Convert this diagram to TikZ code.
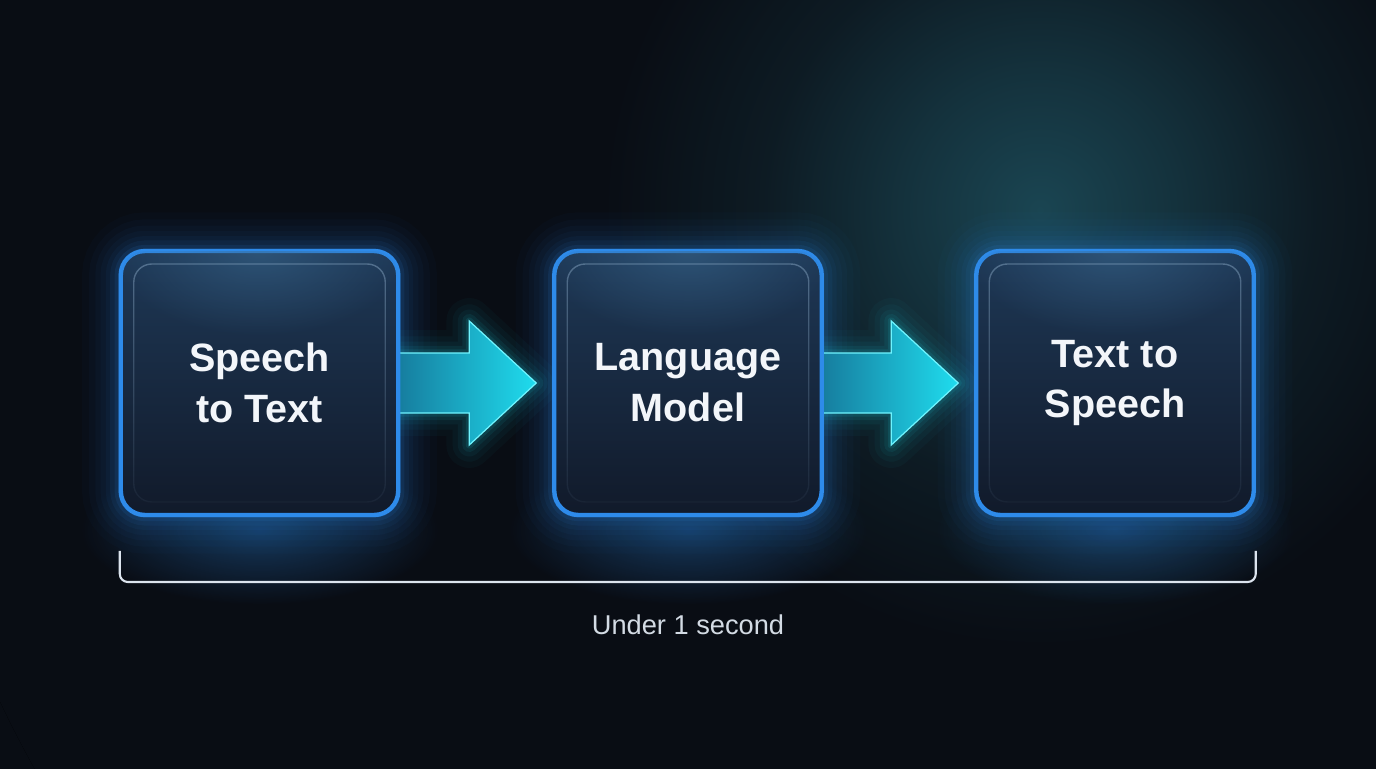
\documentclass[tikz,border=0pt]{standalone}
\usepackage{fontspec}
\setmainfont{Liberation Sans}
\usetikzlibrary{positioning,calc,fadings}
\pgfdeclarelayer{bg}
\pgfdeclarelayer{glow}
\pgfdeclarelayer{mid}
\pgfsetlayers{bg,glow,mid,main}
\definecolor{bgdark}{HTML}{090D14}
\definecolor{bgteal}{HTML}{1A4552}
\definecolor{boxedge}{HTML}{2E8BEA}
\definecolor{boxtop}{HTML}{1E3856}
\definecolor{boxbot}{HTML}{111A2A}
\definecolor{boxglint}{HTML}{3A6A92}
\definecolor{boxrim}{HTML}{8AA8C4}
\definecolor{boxtext}{HTML}{F3F6FA}
\definecolor{arrowdeep}{HTML}{167A9C}
\definecolor{arrowcyan}{HTML}{1FDCEE}
\definecolor{arrowrim}{HTML}{6FF4FF}
\definecolor{bracketgray}{HTML}{DCE4EE}
\definecolor{notegray}{HTML}{D3DBE4}
\pgfdeclareradialshading{tealhaze}{\pgfpoint{0bp}{0bp}}{color(0bp)=(bgteal);
 color(3bp)=(bgteal!65!bgdark); color(6bp)=(bgteal!25!bgdark);
 color(9.5bp)=(bgdark); color(50bp)=(bgdark)}
\tikzfading[name=rimfade,top color=transparent!20,bottom color=transparent!90]
\tikzfading[name=glintfade,inner color=transparent!0,outer color=transparent!100]
\begin{document}
\begin{tikzpicture}[x=0.02cm,y=-0.02cm,
 stage/.style={draw=boxedge,line width=2.5pt,rounded corners=0.48cm,
               top color=boxtop,bottom color=boxbot,minimum width=5.55cm,
               minimum height=5.28cm,outer sep=0pt,text=boxtext,align=center,
               font=\fontsize{22.5}{29}\selectfont\bfseries},
 shine/.style={draw=boxrim,line width=0.8pt,opacity=0.6,rounded corners=0.36cm,
               path fading=rimfade},
 halo/.style={draw=boxedge,rounded corners=0.48cm},
 pipe/.style={preaction={draw=arrowcyan,line width=26pt,opacity=0.03,line join=round},
              preaction={draw=arrowcyan,line width=19pt,opacity=0.04,line join=round},
              preaction={draw=arrowcyan,line width=13pt,opacity=0.05,line join=round},
              preaction={draw=arrowcyan,line width=8pt,opacity=0.07,line join=round},
              preaction={draw=arrowcyan,line width=4pt,opacity=0.1,line join=round},
              left color=arrowdeep,right color=arrowcyan,draw=arrowrim,
              line width=0.7pt},
 bracket/.style={draw=bracketgray,line width=1.2pt,rounded corners=0.16cm},
 note/.style={text=notegray,font=\fontsize{15.5}{18}\selectfont}]
 \useasboundingbox (0,0) rectangle (1376,768);
 \begin{pgfonlayer}{bg}
  \fill[bgdark] (-5,-5) rectangle (1381,773);
  \begin{scope}
   \clip (-5,-5) rectangle (1381,773);
   \fill[shading=tealhaze] (1040,210) circle (1150);
  \end{scope}
 \end{pgfonlayer}
 \node[stage] (stt) at (259.5,383) {Speech\\to Text};
 \node[stage,minimum width=5.35cm] (llm) at (688,383) {Language\\Model};
 \node[stage] (tts) at (1115,383) {Text to\\Speech};
 \foreach \n in {stt,llm,tts} {
  \begin{scope}
   \clip[rounded corners=0.48cm] (\n.north west) rectangle (\n.south east);
   \fill[boxglint,opacity=0.55,path fading=glintfade] (\n.north) ellipse (150 and 85);
  \end{scope}
  \draw[shine] ([shift={(13,13)}]\n.north west) rectangle ([shift={(-13,-13)}]\n.south east);
 }
 \begin{pgfonlayer}{glow}
  \foreach \n in {stt,llm,tts} {
   \fill[boxedge,opacity=0.35,path fading=glintfade] ($(\n.south)+(0,15)$) ellipse (180 and 75);
   \foreach \w/\o in {44pt/0.025,36pt/0.03,29pt/0.035,23pt/0.04,17pt/0.05,12pt/0.07,7pt/0.1,3pt/0.14}
    \draw[halo,line width=\w,opacity=\o] (\n.north west) rectangle (\n.south east);
  }
 \end{pgfonlayer}
 \begin{pgfonlayer}{mid}
  \foreach \a/\b in {stt/llm,llm/tts}
   \path[pipe] ($(\a.east)+(-4,-30)$) -- ($(\b.west)+(-85,-30)$)
    -- ($(\b.west)+(-85,-62)$) -- ($(\b.west)+(-18,0)$)
    -- ($(\b.west)+(-85,62)$) -- ($(\b.west)+(-85,30)$)
    -- ($(\a.east)+(-4,30)$) -- cycle;
 \end{pgfonlayer}
 \draw[bracket] ($(stt.south west)+(-1,36)$) -- ($(stt.south west)+(-1,67)$)
  -| ($(tts.south east)+(2,36)$);
 \node[note] (span) at ($(llm.south)+(0,110)$) {Under 1 second};
\end{tikzpicture}
\end{document}
